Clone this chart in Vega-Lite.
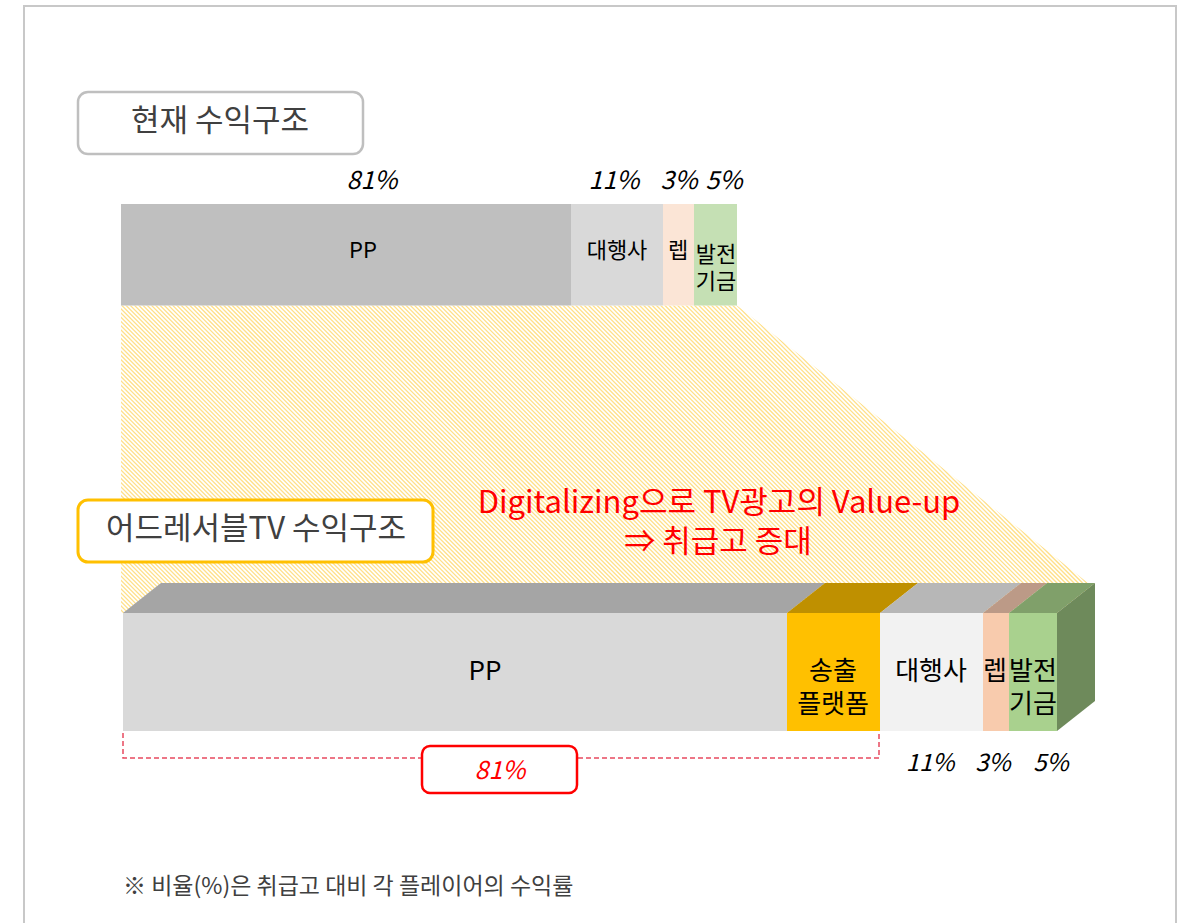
{
  "$schema": "https://vega.github.io/schema/vega-lite/v6.json",
  "width": 1183,
  "height": 923,
  "autosize": "none",
  "padding": 0,
  "background": "white",
  "view": {"stroke": null},
  "config": {"text": {"font": "Noto Sans CJK KR"}},
  "datasets": {
    "stripe": [{"x": 10, "y": 1060, "x2": 1210, "y2": -140}],
    "mask": [
      {"x": 0, "x2": 1183, "y": 0, "y2": 305.5},
      {"x": 0, "x2": 121, "y": 0, "y2": 923},
      {"x": 0, "x2": 1183, "y": 613, "y2": 923},
      {"x": 1095, "x2": 1183, "y": 0, "y2": 923}
    ],
    "diag": [
      {"x": 737, "y": 0, "y2": 305.5},
      {"x": 1088, "y": 0, "y2": 583},
      {"x": 1183, "y": 0, "y2": 583}
    ],
    "frame": [
      {"x": 24, "y": 6, "x2": 24, "y2": 923},
      {"x": 23, "y": 6, "x2": 1177, "y2": 6},
      {"x": 1176, "y": 6, "x2": 1176, "y2": 923}
    ],
    "topbar": [
      {"seg": "PP", "x": 121, "x2": 571, "y": 204, "y2": 305.5},
      {"seg": "대행사", "x": 571, "x2": 663, "y": 204, "y2": 305.5},
      {"seg": "렙", "x": 663, "x2": 694, "y": 204, "y2": 305.5},
      {"seg": "발전기금", "x": 694, "x2": 737, "y": 204, "y2": 305.5}
    ],
    "front": [
      {"seg": "PP", "x": 123, "x2": 787, "y": 613, "y2": 731},
      {"seg": "송출플랫폼", "x": 787, "x2": 880, "y": 613, "y2": 731},
      {"seg": "대행사", "x": 880, "x2": 983, "y": 613, "y2": 731},
      {"seg": "렙", "x": 983, "x2": 1009, "y": 613, "y2": 731},
      {"seg": "발전기금", "x": 1009, "x2": 1057, "y": 613, "y2": 731}
    ],
    "topface": [
      {"seg": "PP", "y": 613, "x": 123, "x2": 787},
      {"seg": "PP", "y": 583, "x": 161, "x2": 825},
      {"seg": "송출플랫폼", "y": 613, "x": 787, "x2": 880},
      {"seg": "송출플랫폼", "y": 583, "x": 825, "x2": 918},
      {"seg": "대행사", "y": 613, "x": 880, "x2": 983},
      {"seg": "대행사", "y": 583, "x": 918, "x2": 1021},
      {"seg": "렙", "y": 613, "x": 983, "x2": 1009},
      {"seg": "렙", "y": 583, "x": 1021, "x2": 1047},
      {"seg": "발전기금", "y": 613, "x": 1009, "x2": 1057},
      {"seg": "발전기금", "y": 583, "x": 1047, "x2": 1095}
    ],
    "side": [
      {"x": 1057, "y": 613, "y2": 731},
      {"x": 1095, "y": 583, "y2": 701}
    ],
    "bracket": [
      {"o": 1, "x": 123, "y": 733},
      {"o": 2, "x": 123, "y": 758},
      {"o": 3, "x": 879, "y": 758},
      {"o": 4, "x": 879, "y": 733}
    ],
    "redbox": [{"x": 422, "x2": 577, "y": 746, "y2": 793}],
    "box1": [{"x": 78, "x2": 363, "y": 92, "y2": 154}],
    "box2": [{"x": 78, "x2": 433, "y": 500, "y2": 562}],
    "toplabels": [
      {"t": "PP", "x": 363, "y": 251},
      {"t": "대행사", "x": 617, "y": 251},
      {"t": "렙", "x": 678, "y": 251},
      {"t": "발전\n기금", "x": 716, "y": 255}
    ],
    "toppct": [
      {"t": "81%", "x": 372, "y": 181},
      {"t": "11%", "x": 614, "y": 181},
      {"t": "3%", "x": 679, "y": 181},
      {"t": "5%", "x": 724, "y": 181}
    ],
    "botlabels": [
      {"t": "PP", "x": 485, "y": 672},
      {"t": "송출\n플랫폼", "x": 833, "y": 672},
      {"t": "대행사", "x": 931, "y": 672},
      {"t": "렙", "x": 995, "y": 672},
      {"t": "발전\n기금", "x": 1033, "y": 672}
    ],
    "botpct": [
      {"t": "11%", "x": 930, "y": 764},
      {"t": "3%", "x": 993, "y": 764},
      {"t": "5%", "x": 1051, "y": 764}
    ],
    "red81": [{"t": "81%", "x": 500, "y": 771}],
    "titles": [
      {"t": "현재 수익구조", "x": 220, "y": 122},
      {"t": "어드레서블TV 수익구조", "x": 256, "y": 530}
    ],
    "headline": [
      {"t": "Digitalizing으로 TV광고의 Value-up", "x": 719, "y": 504},
      {"t": "⇒ 취급고 증대", "x": 718, "y": 543}
    ],
    "note": [{"t": "※ 비율(%)은 취급고 대비 각 플레이어의 수익률", "x": 123, "y": 887}]
  },
  "encoding": {
    "x": {"field": "x", "type": "quantitative", "scale": {"domain": [0, 1183], "nice": false, "zero": false}, "axis": null},
    "y": {"field": "y", "type": "quantitative", "scale": {"domain": [0, 923], "nice": false, "zero": false, "reverse": true}, "axis": null}
  },
  "layer": [
    {
      "data": {"name": "stripe"},
      "mark": {"type": "rule", "color": "#ffe08a", "strokeWidth": 1500, "strokeDash": [1.3, 1.7], "strokeCap": "butt"},
      "encoding": {"x2": {"field": "x2"}, "y2": {"field": "y2"}}
    },
    {
      "data": {"name": "mask"},
      "mark": {"type": "rect", "color": "white"},
      "encoding": {"x2": {"field": "x2"}, "y2": {"field": "y2"}}
    },
    {
      "data": {"name": "diag"},
      "mark": {"type": "area", "color": "white"},
      "encoding": {"y2": {"field": "y2"}}
    },
    {
      "data": {"name": "frame"},
      "mark": {"type": "rule", "color": "#c8c8c8", "strokeWidth": 2},
      "encoding": {"x2": {"field": "x2"}, "y2": {"field": "y2"}}
    },
    {
      "data": {"name": "topbar"},
      "mark": {"type": "rect"},
      "encoding": {
        "x2": {"field": "x2"}, "y2": {"field": "y2"},
        "color": {"field": "seg", "type": "nominal", "legend": null,
          "scale": {"domain": ["PP", "대행사", "렙", "발전기금"], "range": ["#bfbfbf", "#d9d9d9", "#fbe5d6", "#c5e0b4"]}}
      }
    },
    {
      "data": {"name": "topface"},
      "mark": {"type": "area", "orient": "horizontal"},
      "encoding": {
        "x2": {"field": "x2"},
        "color": {"field": "seg", "type": "nominal", "legend": null,
          "scale": {"domain": ["PP", "송출플랫폼", "대행사", "렙", "발전기금"], "range": ["#a5a5a5", "#bf9000", "#b7b7b7", "#bc9a87", "#80a06a"]}}
      }
    },
    {
      "data": {"name": "front"},
      "mark": {"type": "rect"},
      "encoding": {
        "x2": {"field": "x2"}, "y2": {"field": "y2"},
        "color": {"field": "seg", "type": "nominal", "legend": null,
          "scale": {"domain": ["PP", "송출플랫폼", "대행사", "렙", "발전기금"], "range": ["#d9d9d9", "#ffc000", "#f2f2f2", "#f8cbad", "#a9d18e"]}}
      }
    },
    {
      "data": {"name": "side"},
      "mark": {"type": "area", "color": "#6e8a5b"},
      "encoding": {"y2": {"field": "y2"}}
    },
    {
      "data": {"name": "bracket"},
      "mark": {"type": "line", "color": "#e84a5f", "strokeWidth": 1.5, "strokeDash": [5, 3]},
      "encoding": {"order": {"field": "o", "type": "quantitative"}}
    },
    {
      "data": {"name": "redbox"},
      "mark": {"type": "rect", "fill": "white", "stroke": "#ff0000", "strokeWidth": 2.5, "cornerRadius": 8},
      "encoding": {"x2": {"field": "x2"}, "y2": {"field": "y2"}}
    },
    {
      "data": {"name": "box1"},
      "mark": {"type": "rect", "fill": "white", "stroke": "#bfbfbf", "strokeWidth": 2.5, "cornerRadius": 10},
      "encoding": {"x2": {"field": "x2"}, "y2": {"field": "y2"}}
    },
    {
      "data": {"name": "box2"},
      "mark": {"type": "rect", "fill": "white", "stroke": "#ffc000", "strokeWidth": 3, "cornerRadius": 10},
      "encoding": {"x2": {"field": "x2"}, "y2": {"field": "y2"}}
    },
    {
      "data": {"name": "toplabels"},
      "mark": {"type": "text", "fontSize": 22, "color": "#000000", "align": "center", "baseline": "middle", "lineBreak": "\n", "lineHeight": 27},
      "encoding": {"text": {"field": "t"}}
    },
    {
      "data": {"name": "toppct"},
      "mark": {"type": "text", "fontSize": 25, "fontStyle": "italic", "color": "#000000", "align": "center", "baseline": "middle"},
      "encoding": {"text": {"field": "t"}}
    },
    {
      "data": {"name": "botlabels"},
      "mark": {"type": "text", "fontSize": 26, "color": "#000000", "align": "center", "baseline": "middle", "lineBreak": "\n", "lineHeight": 33},
      "encoding": {"text": {"field": "t"}}
    },
    {
      "data": {"name": "botpct"},
      "mark": {"type": "text", "fontSize": 24, "fontStyle": "italic", "color": "#000000", "align": "center", "baseline": "middle"},
      "encoding": {"text": {"field": "t"}}
    },
    {
      "data": {"name": "red81"},
      "mark": {"type": "text", "fontSize": 25, "fontStyle": "italic", "color": "#ff0000", "align": "center", "baseline": "middle"},
      "encoding": {"text": {"field": "t"}}
    },
    {
      "data": {"name": "titles"},
      "mark": {"type": "text", "fontSize": 31, "color": "#404040", "align": "center", "baseline": "middle"},
      "encoding": {"text": {"field": "t"}}
    },
    {
      "data": {"name": "headline"},
      "mark": {"type": "text", "fontSize": 31, "color": "#ff0000", "align": "center", "baseline": "middle"},
      "encoding": {"text": {"field": "t"}}
    },
    {
      "data": {"name": "note"},
      "mark": {"type": "text", "fontSize": 23, "color": "#404040", "align": "left", "baseline": "middle"},
      "encoding": {"text": {"field": "t"}}
    }
  ],
  "resolve": {"scale": {"color": "independent"}}
}
